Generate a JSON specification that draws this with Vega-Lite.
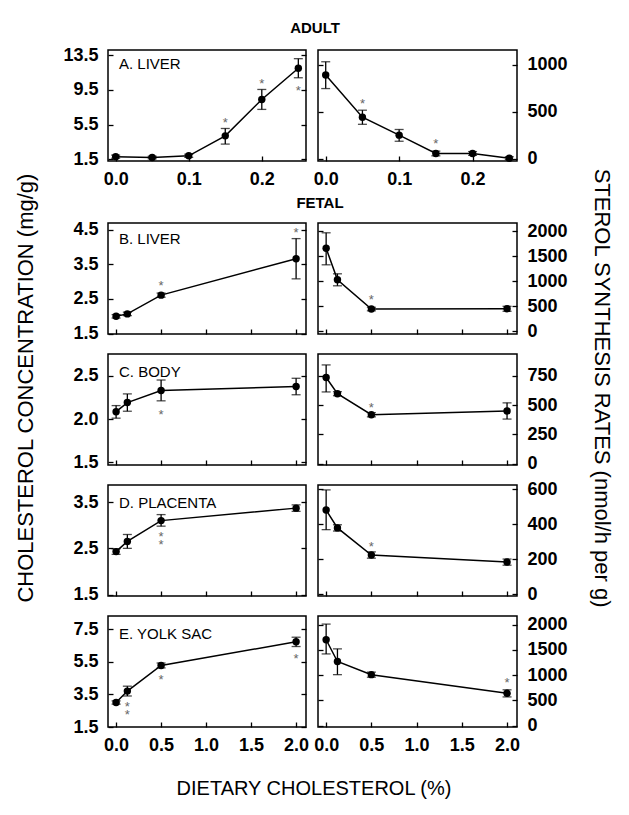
{
"$schema": "https://vega.github.io/schema/vega-lite/v6.json",
"padding": {"left": 15, "top": 21, "right": 5, "bottom": 5},
"background": "white",
"datasets": {"d": [
{"p":"A","s":"c","k":"p","x":0,"y":1.8,"lo":1.62,"hi":1.98},
{"p":"A","s":"c","k":"p","x":0.05,"y":1.7,"lo":1.55,"hi":1.85},
{"p":"A","s":"c","k":"p","x":0.1,"y":1.9,"lo":1.72,"hi":2.08},
{"p":"A","s":"c","k":"p","x":0.15,"y":4.2,"lo":3.25,"hi":5.05},
{"p":"A","s":"c","k":"p","x":0.2,"y":8.4,"lo":7.25,"hi":9.55},
{"p":"A","s":"c","k":"p","x":0.25,"y":12.0,"lo":10.9,"hi":13.1},
{"p":"A","s":"c","k":"a","x":0.15,"y":6.14,"t":"*"},
{"p":"A","s":"c","k":"a","x":0.2,"y":10.63,"t":"*"},
{"p":"A","s":"c","k":"a","x":0.25,"y":9.82,"t":"*"},
{"p":"A","s":"s","k":"p","x":0,"y":890,"lo":745,"hi":1030},
{"p":"A","s":"s","k":"p","x":0.05,"y":440,"lo":365,"hi":515},
{"p":"A","s":"s","k":"p","x":0.1,"y":250,"lo":185,"hi":310},
{"p":"A","s":"s","k":"p","x":0.15,"y":55,"lo":30,"hi":80},
{"p":"A","s":"s","k":"p","x":0.2,"y":55,"lo":35,"hi":75},
{"p":"A","s":"s","k":"p","x":0.25,"y":5,"lo":-10,"hi":20},
{"p":"A","s":"s","k":"a","x":0.05,"y":621,"t":"*"},
{"p":"A","s":"s","k":"a","x":0.15,"y":196,"t":"*"},
{"p":"B","s":"c","k":"p","x":0,"y":2.0,"lo":1.95,"hi":2.05},
{"p":"B","s":"c","k":"p","x":0.125,"y":2.07,"lo":2.02,"hi":2.12},
{"p":"B","s":"c","k":"p","x":0.5,"y":2.61,"lo":2.55,"hi":2.67},
{"p":"B","s":"c","k":"p","x":2.0,"y":3.66,"lo":3.08,"hi":4.24},
{"p":"B","s":"c","k":"a","x":0.5,"y":3.0,"t":"*"},
{"p":"B","s":"c","k":"a","x":2.0,"y":4.52,"t":"*"},
{"p":"B","s":"s","k":"p","x":0,"y":1660,"lo":1330,"hi":1970},
{"p":"B","s":"s","k":"p","x":0.125,"y":1030,"lo":910,"hi":1150},
{"p":"B","s":"s","k":"p","x":0.5,"y":446,"lo":410,"hi":480},
{"p":"B","s":"s","k":"p","x":2.0,"y":452,"lo":400,"hi":500},
{"p":"B","s":"s","k":"a","x":0.5,"y":700,"t":"*"},
{"p":"C","s":"c","k":"p","x":0,"y":2.085,"lo":2.01,"hi":2.155},
{"p":"C","s":"c","k":"p","x":0.125,"y":2.19,"lo":2.09,"hi":2.29},
{"p":"C","s":"c","k":"p","x":0.5,"y":2.33,"lo":2.21,"hi":2.45},
{"p":"C","s":"c","k":"p","x":2.0,"y":2.375,"lo":2.28,"hi":2.47},
{"p":"C","s":"c","k":"a","x":0.5,"y":2.09,"t":"*"},
{"p":"C","s":"s","k":"p","x":0,"y":735,"lo":612,"hi":842},
{"p":"C","s":"s","k":"p","x":0.125,"y":597,"lo":580,"hi":614},
{"p":"C","s":"s","k":"p","x":0.5,"y":418,"lo":400,"hi":436},
{"p":"C","s":"s","k":"p","x":2.0,"y":450,"lo":381,"hi":519},
{"p":"C","s":"s","k":"a","x":0.5,"y":513,"t":"*"},
{"p":"D","s":"c","k":"p","x":0,"y":2.43,"lo":2.37,"hi":2.49},
{"p":"D","s":"c","k":"p","x":0.125,"y":2.65,"lo":2.5,"hi":2.8},
{"p":"D","s":"c","k":"p","x":0.5,"y":3.1,"lo":2.98,"hi":3.23},
{"p":"D","s":"c","k":"p","x":2.0,"y":3.37,"lo":3.3,"hi":3.44},
{"p":"D","s":"c","k":"a","x":0.5,"y":2.83,"t":"*\n*"},
{"p":"D","s":"s","k":"p","x":0,"y":480,"lo":368,"hi":595},
{"p":"D","s":"s","k":"p","x":0.125,"y":378,"lo":360,"hi":396},
{"p":"D","s":"s","k":"p","x":0.5,"y":223,"lo":205,"hi":241},
{"p":"D","s":"s","k":"p","x":2.0,"y":183,"lo":165,"hi":200},
{"p":"D","s":"s","k":"a","x":0.5,"y":293,"t":"*"},
{"p":"E","s":"c","k":"p","x":0,"y":3.0,"lo":2.9,"hi":3.1},
{"p":"E","s":"c","k":"p","x":0.125,"y":3.7,"lo":3.4,"hi":4.0},
{"p":"E","s":"c","k":"p","x":0.5,"y":5.27,"lo":5.12,"hi":5.42},
{"p":"E","s":"c","k":"p","x":2.0,"y":6.72,"lo":6.43,"hi":7.0},
{"p":"E","s":"c","k":"a","x":0.125,"y":3.0,"t":"*\n*"},
{"p":"E","s":"c","k":"a","x":0.5,"y":4.61,"t":"*"},
{"p":"E","s":"c","k":"a","x":2.0,"y":5.94,"t":"*"},
{"p":"E","s":"s","k":"p","x":0,"y":1700,"lo":1420,"hi":2010},
{"p":"E","s":"s","k":"p","x":0.125,"y":1270,"lo":1010,"hi":1520},
{"p":"E","s":"s","k":"p","x":0.5,"y":1010,"lo":960,"hi":1060},
{"p":"E","s":"s","k":"p","x":2.0,"y":641,"lo":570,"hi":710},
{"p":"E","s":"s","k":"a","x":2.0,"y":925,"t":"*"}
]},
"title": {"text": "DIETARY CHOLESTEROL (%)", "orient": "bottom", "anchor": "middle", "fontSize": 20, "fontWeight": "normal", "offset": 24},
"vconcat": [{
"title": {"text": "CHOLESTEROL CONCENTRATION (mg/g)", "orient": "left", "anchor": "middle", "fontSize": 22, "fontWeight": "normal", "offset": 24},
"vconcat": [{
"title": {"text": "STEROL SYNTHESIS RATES (nmol/h per g)", "orient": "right", "anchor": "middle", "fontSize": 22, "fontWeight": "normal", "offset": 22},
"spacing": 6,
"vconcat": [
{
"title": {"text": "ADULT", "anchor": "middle", "fontSize": 15, "fontWeight": "bold", "offset": 9},
"bounds": "flush", "spacing": 12,
"hconcat": [
{"width":198,"height":111,
 "title":{"text":"A. LIVER","anchor":"start","frame":"group","offset":-26,"dx":11,"fontSize":15,"fontWeight":"normal"},
 "data":{"name":"d"},
 "transform":[{"filter":"datum.p=='A' && datum.s=='c'"}],
 "encoding":{
  "x":{"field":"x","type":"quantitative","scale":{"domain":[-0.0105,0.2605],"nice":false,"zero":false},"axis":{"values":[0,0.1,0.2],"format":".1f","title":null}},
  "y":{"field":"y","type":"quantitative","scale":{"domain":[1.3,14.1],"nice":false,"zero":false},"axis":{"values":[1.5,5.5,9.5,13.5],"format":".1f","orient":"left","title":null}}
 },
 "layer":[
  {"transform":[{"filter":"datum.k=='p'"}],"mark":{"type":"rule","color":"black","strokeWidth":1.3},"encoding":{"y":{"field":"lo","type":"quantitative","axis":null},"y2":{"field":"hi"}}},
  {"transform":[{"filter":"datum.k=='p'"}],"mark":{"type":"tick","orient":"horizontal","color":"black","size":9,"thickness":1.3},"encoding":{"y":{"field":"lo","type":"quantitative","axis":null}}},
  {"transform":[{"filter":"datum.k=='p'"}],"mark":{"type":"tick","orient":"horizontal","color":"black","size":9,"thickness":1.3},"encoding":{"y":{"field":"hi","type":"quantitative","axis":null}}},
  {"transform":[{"filter":"datum.k=='p'"}],"mark":{"type":"line","color":"black","strokeWidth":1.5}},
  {"transform":[{"filter":"datum.k=='p'"}],"mark":{"type":"point","filled":true,"color":"black","size":55,"opacity":1},"encoding":{"y":{"field":"y","type":"quantitative","axis":{"values":[1.5,5.5,9.5,13.5],"orient":"right","labels":false,"title":null}}}},
  {"transform":[{"filter":"datum.k=='a'"}],"mark":{"type":"text","fontSize":13,"color":"#666","dy":4,"lineBreak":"\n","lineHeight":8},"encoding":{"text":{"field":"t"},"y":{"field":"y","type":"quantitative","axis":null}}}
 ],
 "resolve":{"axis":{"y":"independent"}}
},
{"width":199,"height":111,
 "data":{"name":"d"},
 "transform":[{"filter":"datum.p=='A' && datum.s=='s'"}],
 "encoding":{
  "x":{"field":"x","type":"quantitative","scale":{"domain":[-0.0105,0.2605],"nice":false,"zero":false},"axis":{"values":[0,0.1,0.2],"format":".1f","title":null}},
  "y":{"field":"y","type":"quantitative","scale":{"domain":[-25,1155],"nice":false,"zero":false},"axis":{"values":[0,500,1000],"format":"d","orient":"right","title":null}}
 },
 "layer":[
  {"transform":[{"filter":"datum.k=='p'"}],"mark":{"type":"rule","color":"black","strokeWidth":1.3},"encoding":{"y":{"field":"lo","type":"quantitative","axis":null},"y2":{"field":"hi"}}},
  {"transform":[{"filter":"datum.k=='p'"}],"mark":{"type":"tick","orient":"horizontal","color":"black","size":9,"thickness":1.3},"encoding":{"y":{"field":"lo","type":"quantitative","axis":null}}},
  {"transform":[{"filter":"datum.k=='p'"}],"mark":{"type":"tick","orient":"horizontal","color":"black","size":9,"thickness":1.3},"encoding":{"y":{"field":"hi","type":"quantitative","axis":null}}},
  {"transform":[{"filter":"datum.k=='p'"}],"mark":{"type":"line","color":"black","strokeWidth":1.5}},
  {"transform":[{"filter":"datum.k=='p'"}],"mark":{"type":"point","filled":true,"color":"black","size":55,"opacity":1},"encoding":{"y":{"field":"y","type":"quantitative","axis":{"values":[0,500,1000],"orient":"left","labels":false,"title":null}}}},
  {"transform":[{"filter":"datum.k=='a'"}],"mark":{"type":"text","fontSize":13,"color":"#666","dy":4,"lineBreak":"\n","lineHeight":8},"encoding":{"text":{"field":"t"},"y":{"field":"y","type":"quantitative","axis":null}}}
 ],
 "resolve":{"axis":{"y":"independent"}}
}
]},
{
"title": {"text": "FETAL", "anchor": "middle", "fontSize": 15, "fontWeight": "bold", "offset": 9},
"bounds": "flush", "spacing": {"row": 20, "column": 12}, "columns": 2,
"concat": [
{"width":198,"height":111,
 "title":{"text":"B. LIVER","anchor":"start","frame":"group","offset":-26,"dx":11,"fontSize":15,"fontWeight":"normal"},
 "data":{"name":"d"},
 "transform":[{"filter":"datum.p=='B' && datum.s=='c'"}],
 "encoding":{
  "x":{"field":"x","type":"quantitative","scale":{"domain":[-0.09,2.11],"nice":false,"zero":false},"axis":{"values":[0,0.5,1,1.5,2],"labels":false,"title":null}},
  "y":{"field":"y","type":"quantitative","scale":{"domain":[1.49,4.69],"nice":false,"zero":false},"axis":{"values":[1.5,2.5,3.5,4.5],"format":".1f","orient":"left","title":null}}
 },
 "layer":[
  {"transform":[{"filter":"datum.k=='p'"}],"mark":{"type":"rule","color":"black","strokeWidth":1.3},"encoding":{"y":{"field":"lo","type":"quantitative","axis":null},"y2":{"field":"hi"}}},
  {"transform":[{"filter":"datum.k=='p'"}],"mark":{"type":"tick","orient":"horizontal","color":"black","size":9,"thickness":1.3},"encoding":{"y":{"field":"lo","type":"quantitative","axis":null}}},
  {"transform":[{"filter":"datum.k=='p'"}],"mark":{"type":"tick","orient":"horizontal","color":"black","size":9,"thickness":1.3},"encoding":{"y":{"field":"hi","type":"quantitative","axis":null}}},
  {"transform":[{"filter":"datum.k=='p'"}],"mark":{"type":"line","color":"black","strokeWidth":1.5}},
  {"transform":[{"filter":"datum.k=='p'"}],"mark":{"type":"point","filled":true,"color":"black","size":55,"opacity":1},"encoding":{"y":{"field":"y","type":"quantitative","axis":{"values":[1.5,2.5,3.5,4.5],"orient":"right","labels":false,"title":null}}}},
  {"transform":[{"filter":"datum.k=='a'"}],"mark":{"type":"text","fontSize":13,"color":"#666","dy":4,"lineBreak":"\n","lineHeight":8},"encoding":{"text":{"field":"t"},"y":{"field":"y","type":"quantitative","axis":null}}}
 ],
 "resolve":{"axis":{"y":"independent"}}
},
{"width":199,"height":111,
 "data":{"name":"d"},
 "transform":[{"filter":"datum.p=='B' && datum.s=='s'"}],
 "encoding":{
  "x":{"field":"x","type":"quantitative","scale":{"domain":[-0.09,2.11],"nice":false,"zero":false},"axis":{"values":[0,0.5,1,1.5,2],"labels":false,"title":null}},
  "y":{"field":"y","type":"quantitative","scale":{"domain":[-54,2166],"nice":false,"zero":false},"axis":{"values":[0,500,1000,1500,2000],"format":"d","orient":"right","title":null}}
 },
 "layer":[
  {"transform":[{"filter":"datum.k=='p'"}],"mark":{"type":"rule","color":"black","strokeWidth":1.3},"encoding":{"y":{"field":"lo","type":"quantitative","axis":null},"y2":{"field":"hi"}}},
  {"transform":[{"filter":"datum.k=='p'"}],"mark":{"type":"tick","orient":"horizontal","color":"black","size":9,"thickness":1.3},"encoding":{"y":{"field":"lo","type":"quantitative","axis":null}}},
  {"transform":[{"filter":"datum.k=='p'"}],"mark":{"type":"tick","orient":"horizontal","color":"black","size":9,"thickness":1.3},"encoding":{"y":{"field":"hi","type":"quantitative","axis":null}}},
  {"transform":[{"filter":"datum.k=='p'"}],"mark":{"type":"line","color":"black","strokeWidth":1.5}},
  {"transform":[{"filter":"datum.k=='p'"}],"mark":{"type":"point","filled":true,"color":"black","size":55,"opacity":1},"encoding":{"y":{"field":"y","type":"quantitative","axis":{"values":[0,500,1000,1500,2000],"orient":"left","labels":false,"title":null}}}},
  {"transform":[{"filter":"datum.k=='a'"}],"mark":{"type":"text","fontSize":13,"color":"#666","dy":4,"lineBreak":"\n","lineHeight":8},"encoding":{"text":{"field":"t"},"y":{"field":"y","type":"quantitative","axis":null}}}
 ],
 "resolve":{"axis":{"y":"independent"}}
},
{"width":198,"height":111,
 "title":{"text":"C. BODY","anchor":"start","frame":"group","offset":-26,"dx":11,"fontSize":15,"fontWeight":"normal"},
 "data":{"name":"d"},
 "transform":[{"filter":"datum.p=='C' && datum.s=='c'"}],
 "encoding":{
  "x":{"field":"x","type":"quantitative","scale":{"domain":[-0.09,2.11],"nice":false,"zero":false},"axis":{"values":[0,0.5,1,1.5,2],"labels":false,"title":null}},
  "y":{"field":"y","type":"quantitative","scale":{"domain":[1.47,2.75],"nice":false,"zero":false},"axis":{"values":[1.5,2.0,2.5],"format":".1f","orient":"left","title":null}}
 },
 "layer":[
  {"transform":[{"filter":"datum.k=='p'"}],"mark":{"type":"rule","color":"black","strokeWidth":1.3},"encoding":{"y":{"field":"lo","type":"quantitative","axis":null},"y2":{"field":"hi"}}},
  {"transform":[{"filter":"datum.k=='p'"}],"mark":{"type":"tick","orient":"horizontal","color":"black","size":9,"thickness":1.3},"encoding":{"y":{"field":"lo","type":"quantitative","axis":null}}},
  {"transform":[{"filter":"datum.k=='p'"}],"mark":{"type":"tick","orient":"horizontal","color":"black","size":9,"thickness":1.3},"encoding":{"y":{"field":"hi","type":"quantitative","axis":null}}},
  {"transform":[{"filter":"datum.k=='p'"}],"mark":{"type":"line","color":"black","strokeWidth":1.5}},
  {"transform":[{"filter":"datum.k=='p'"}],"mark":{"type":"point","filled":true,"color":"black","size":55,"opacity":1},"encoding":{"y":{"field":"y","type":"quantitative","axis":{"values":[1.5,2.0,2.5],"orient":"right","labels":false,"title":null}}}},
  {"transform":[{"filter":"datum.k=='a'"}],"mark":{"type":"text","fontSize":13,"color":"#666","dy":4,"lineBreak":"\n","lineHeight":8},"encoding":{"text":{"field":"t"},"y":{"field":"y","type":"quantitative","axis":null}}}
 ],
 "resolve":{"axis":{"y":"independent"}}
},
{"width":199,"height":111,
 "data":{"name":"d"},
 "transform":[{"filter":"datum.p=='C' && datum.s=='s'"}],
 "encoding":{
  "x":{"field":"x","type":"quantitative","scale":{"domain":[-0.09,2.11],"nice":false,"zero":false},"axis":{"values":[0,0.5,1,1.5,2],"labels":false,"title":null}},
  "y":{"field":"y","type":"quantitative","scale":{"domain":[-10,935],"nice":false,"zero":false},"axis":{"values":[0,250,500,750],"format":"d","orient":"right","title":null}}
 },
 "layer":[
  {"transform":[{"filter":"datum.k=='p'"}],"mark":{"type":"rule","color":"black","strokeWidth":1.3},"encoding":{"y":{"field":"lo","type":"quantitative","axis":null},"y2":{"field":"hi"}}},
  {"transform":[{"filter":"datum.k=='p'"}],"mark":{"type":"tick","orient":"horizontal","color":"black","size":9,"thickness":1.3},"encoding":{"y":{"field":"lo","type":"quantitative","axis":null}}},
  {"transform":[{"filter":"datum.k=='p'"}],"mark":{"type":"tick","orient":"horizontal","color":"black","size":9,"thickness":1.3},"encoding":{"y":{"field":"hi","type":"quantitative","axis":null}}},
  {"transform":[{"filter":"datum.k=='p'"}],"mark":{"type":"line","color":"black","strokeWidth":1.5}},
  {"transform":[{"filter":"datum.k=='p'"}],"mark":{"type":"point","filled":true,"color":"black","size":55,"opacity":1},"encoding":{"y":{"field":"y","type":"quantitative","axis":{"values":[0,250,500,750],"orient":"left","labels":false,"title":null}}}},
  {"transform":[{"filter":"datum.k=='a'"}],"mark":{"type":"text","fontSize":13,"color":"#666","dy":4,"lineBreak":"\n","lineHeight":8},"encoding":{"text":{"field":"t"},"y":{"field":"y","type":"quantitative","axis":null}}}
 ],
 "resolve":{"axis":{"y":"independent"}}
},
{"width":198,"height":111,
 "title":{"text":"D. PLACENTA","anchor":"start","frame":"group","offset":-26,"dx":11,"fontSize":15,"fontWeight":"normal"},
 "data":{"name":"d"},
 "transform":[{"filter":"datum.p=='D' && datum.s=='c'"}],
 "encoding":{
  "x":{"field":"x","type":"quantitative","scale":{"domain":[-0.09,2.11],"nice":false,"zero":false},"axis":{"values":[0,0.5,1,1.5,2],"labels":false,"title":null}},
  "y":{"field":"y","type":"quantitative","scale":{"domain":[1.47,3.87],"nice":false,"zero":false},"axis":{"values":[1.5,2.5,3.5],"format":".1f","orient":"left","title":null}}
 },
 "layer":[
  {"transform":[{"filter":"datum.k=='p'"}],"mark":{"type":"rule","color":"black","strokeWidth":1.3},"encoding":{"y":{"field":"lo","type":"quantitative","axis":null},"y2":{"field":"hi"}}},
  {"transform":[{"filter":"datum.k=='p'"}],"mark":{"type":"tick","orient":"horizontal","color":"black","size":9,"thickness":1.3},"encoding":{"y":{"field":"lo","type":"quantitative","axis":null}}},
  {"transform":[{"filter":"datum.k=='p'"}],"mark":{"type":"tick","orient":"horizontal","color":"black","size":9,"thickness":1.3},"encoding":{"y":{"field":"hi","type":"quantitative","axis":null}}},
  {"transform":[{"filter":"datum.k=='p'"}],"mark":{"type":"line","color":"black","strokeWidth":1.5}},
  {"transform":[{"filter":"datum.k=='p'"}],"mark":{"type":"point","filled":true,"color":"black","size":55,"opacity":1},"encoding":{"y":{"field":"y","type":"quantitative","axis":{"values":[1.5,2.5,3.5],"orient":"right","labels":false,"title":null}}}},
  {"transform":[{"filter":"datum.k=='a'"}],"mark":{"type":"text","fontSize":13,"color":"#666","dy":4,"lineBreak":"\n","lineHeight":8},"encoding":{"text":{"field":"t"},"y":{"field":"y","type":"quantitative","axis":null}}}
 ],
 "resolve":{"axis":{"y":"independent"}}
},
{"width":199,"height":111,
 "data":{"name":"d"},
 "transform":[{"filter":"datum.p=='D' && datum.s=='s'"}],
 "encoding":{
  "x":{"field":"x","type":"quantitative","scale":{"domain":[-0.09,2.11],"nice":false,"zero":false},"axis":{"values":[0,0.5,1,1.5,2],"labels":false,"title":null}},
  "y":{"field":"y","type":"quantitative","scale":{"domain":[-11,623],"nice":false,"zero":false},"axis":{"values":[0,200,400,600],"format":"d","orient":"right","title":null}}
 },
 "layer":[
  {"transform":[{"filter":"datum.k=='p'"}],"mark":{"type":"rule","color":"black","strokeWidth":1.3},"encoding":{"y":{"field":"lo","type":"quantitative","axis":null},"y2":{"field":"hi"}}},
  {"transform":[{"filter":"datum.k=='p'"}],"mark":{"type":"tick","orient":"horizontal","color":"black","size":9,"thickness":1.3},"encoding":{"y":{"field":"lo","type":"quantitative","axis":null}}},
  {"transform":[{"filter":"datum.k=='p'"}],"mark":{"type":"tick","orient":"horizontal","color":"black","size":9,"thickness":1.3},"encoding":{"y":{"field":"hi","type":"quantitative","axis":null}}},
  {"transform":[{"filter":"datum.k=='p'"}],"mark":{"type":"line","color":"black","strokeWidth":1.5}},
  {"transform":[{"filter":"datum.k=='p'"}],"mark":{"type":"point","filled":true,"color":"black","size":55,"opacity":1},"encoding":{"y":{"field":"y","type":"quantitative","axis":{"values":[0,200,400,600],"orient":"left","labels":false,"title":null}}}},
  {"transform":[{"filter":"datum.k=='a'"}],"mark":{"type":"text","fontSize":13,"color":"#666","dy":4,"lineBreak":"\n","lineHeight":8},"encoding":{"text":{"field":"t"},"y":{"field":"y","type":"quantitative","axis":null}}}
 ],
 "resolve":{"axis":{"y":"independent"}}
},
{"width":198,"height":111,
 "title":{"text":"E. YOLK SAC","anchor":"start","frame":"group","offset":-26,"dx":11,"fontSize":15,"fontWeight":"normal"},
 "data":{"name":"d"},
 "transform":[{"filter":"datum.p=='E' && datum.s=='c'"}],
 "encoding":{
  "x":{"field":"x","type":"quantitative","scale":{"domain":[-0.09,2.11],"nice":false,"zero":false},"axis":{"values":[0,0.5,1,1.5,2],"format":".1f","title":null}},
  "y":{"field":"y","type":"quantitative","scale":{"domain":[1.5,8.3],"nice":false,"zero":false},"axis":{"values":[1.5,3.5,5.5,7.5],"format":".1f","orient":"left","title":null}}
 },
 "layer":[
  {"transform":[{"filter":"datum.k=='p'"}],"mark":{"type":"rule","color":"black","strokeWidth":1.3},"encoding":{"y":{"field":"lo","type":"quantitative","axis":null},"y2":{"field":"hi"}}},
  {"transform":[{"filter":"datum.k=='p'"}],"mark":{"type":"tick","orient":"horizontal","color":"black","size":9,"thickness":1.3},"encoding":{"y":{"field":"lo","type":"quantitative","axis":null}}},
  {"transform":[{"filter":"datum.k=='p'"}],"mark":{"type":"tick","orient":"horizontal","color":"black","size":9,"thickness":1.3},"encoding":{"y":{"field":"hi","type":"quantitative","axis":null}}},
  {"transform":[{"filter":"datum.k=='p'"}],"mark":{"type":"line","color":"black","strokeWidth":1.5}},
  {"transform":[{"filter":"datum.k=='p'"}],"mark":{"type":"point","filled":true,"color":"black","size":55,"opacity":1},"encoding":{"y":{"field":"y","type":"quantitative","axis":{"values":[1.5,3.5,5.5,7.5],"orient":"right","labels":false,"title":null}}}},
  {"transform":[{"filter":"datum.k=='a'"}],"mark":{"type":"text","fontSize":13,"color":"#666","dy":4,"lineBreak":"\n","lineHeight":8},"encoding":{"text":{"field":"t"},"y":{"field":"y","type":"quantitative","axis":null}}}
 ],
 "resolve":{"axis":{"y":"independent"}}
},
{"width":199,"height":111,
 "data":{"name":"d"},
 "transform":[{"filter":"datum.p=='E' && datum.s=='s'"}],
 "encoding":{
  "x":{"field":"x","type":"quantitative","scale":{"domain":[-0.09,2.11],"nice":false,"zero":false},"axis":{"values":[0,0.5,1,1.5,2],"format":".1f","title":null}},
  "y":{"field":"y","type":"quantitative","scale":{"domain":[-25,2170],"nice":false,"zero":false},"axis":{"values":[0,500,1000,1500,2000],"format":"d","orient":"right","title":null}}
 },
 "layer":[
  {"transform":[{"filter":"datum.k=='p'"}],"mark":{"type":"rule","color":"black","strokeWidth":1.3},"encoding":{"y":{"field":"lo","type":"quantitative","axis":null},"y2":{"field":"hi"}}},
  {"transform":[{"filter":"datum.k=='p'"}],"mark":{"type":"tick","orient":"horizontal","color":"black","size":9,"thickness":1.3},"encoding":{"y":{"field":"lo","type":"quantitative","axis":null}}},
  {"transform":[{"filter":"datum.k=='p'"}],"mark":{"type":"tick","orient":"horizontal","color":"black","size":9,"thickness":1.3},"encoding":{"y":{"field":"hi","type":"quantitative","axis":null}}},
  {"transform":[{"filter":"datum.k=='p'"}],"mark":{"type":"line","color":"black","strokeWidth":1.5}},
  {"transform":[{"filter":"datum.k=='p'"}],"mark":{"type":"point","filled":true,"color":"black","size":55,"opacity":1},"encoding":{"y":{"field":"y","type":"quantitative","axis":{"values":[0,500,1000,1500,2000],"orient":"left","labels":false,"title":null}}}},
  {"transform":[{"filter":"datum.k=='a'"}],"mark":{"type":"text","fontSize":13,"color":"#666","dy":4,"lineBreak":"\n","lineHeight":8},"encoding":{"text":{"field":"t"},"y":{"field":"y","type":"quantitative","axis":null}}}
 ],
 "resolve":{"axis":{"y":"independent"}}
}
]}
]
}]
}],
"config": {
 "font": "Liberation Sans",
 "view": {"stroke": "black", "strokeWidth": 1.5},
 "axis": {"domain": false, "grid": false, "tickSize": -5, "tickColor": "black", "tickWidth": 1.3, "labelFont": "Liberation Sans", "labelFontSize": 18, "labelFontWeight": "bold", "labelColor": "black", "labelFlush": false, "labelOverlap": false},
 "axisX": {"labelPadding": 14},
 "axisY": {"labelPadding": 15},
 "title": {"font": "Liberation Sans", "color": "black"},
 "text": {"font": "Liberation Sans"}
}
}
